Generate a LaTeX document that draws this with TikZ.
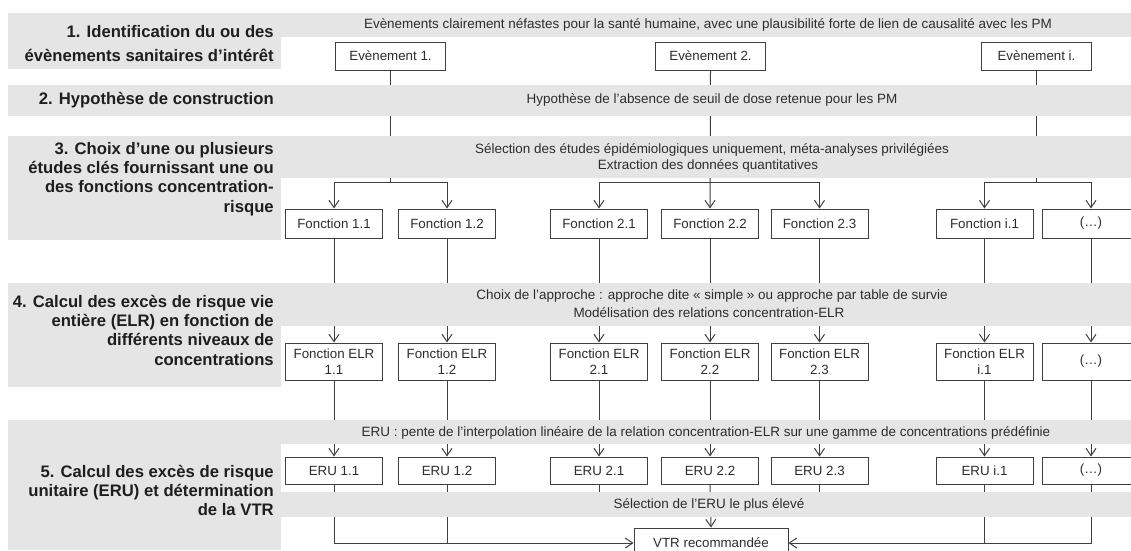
\documentclass[tikz,border=0pt]{standalone}
\usepackage{fontspec}
\setmainfont{Liberation Sans}
\usetikzlibrary{arrows.meta}
\definecolor{band}{RGB}{229,229,229}
\definecolor{ink}{RGB}{64,64,64}
\definecolor{txt}{RGB}{45,45,45}
\definecolor{head}{RGB}{30,30,30}

\begin{document}
\begin{tikzpicture}[x=0.75pt,y=-0.75pt,
  every node/.style={inner sep=0pt, text=txt},
  box/.style={draw=ink, line width=0.75pt, fill=white, align=center,
    minimum width=72.75pt, font=\fontsize{10}{12}\selectfont},
  evbox/.style={box, minimum width=82.5pt, minimum height=21pt},
  fbox/.style={box, minimum height=21.75pt},
  lbox/.style={box, minimum height=27.75pt},
  ubox/.style={box, minimum height=20.25pt},
  vbox/.style={box, minimum width=115.5pt, minimum height=22.5pt},
  stage/.style={anchor=east, align=right, text=head,
    font=\bfseries\fontsize{12.5}{14.5}\selectfont},
  note/.style={font=\fontsize{10.1}{12}\selectfont},
  conn/.style={draw=ink, line width=0.75pt},
  arrow/.style={conn, -{Straight Barb[length=5.5pt, width=7.5pt, line width=0.75pt]}}
]
\useasboundingbox (0,0) rectangle (1131,550);

% helper rows
\coordinate (brow) at (0,182);
\coordinate (selrow) at (0,505);

% events
\node[evbox] (ev1) at (390.5,56) {Evènement 1.};
\node[evbox] (ev2) at (710.5,56) {Evènement 2.};
\node[evbox] (evi) at (1036.5,56) {Evènement i.};

% concentration-risk functions
\node[fbox] (f11) at (334,223.5) {Fonction 1.1};
\node[fbox] (f12) at (447,223.5) {Fonction 1.2};
\node[fbox] (f21) at (599,223.5) {Fonction 2.1};
\node[fbox] (f22) at (710,223.5) {Fonction 2.2};
\node[fbox] (f23) at (819.5,223.5) {Fonction 2.3};
\node[fbox] (fi1) at (984.5,223.5) {Fonction i.1};
\node[fbox] (fix) at (1091,223.5) {(…)};

% ELR functions
\node[lbox] (l11) at (334,361.5) {Fonction ELR\\1.1};
\node[lbox] (l12) at (447,361.5) {Fonction ELR\\1.2};
\node[lbox] (l21) at (599,361.5) {Fonction ELR\\2.1};
\node[lbox] (l22) at (710,361.5) {Fonction ELR\\2.2};
\node[lbox] (l23) at (819.5,361.5) {Fonction ELR\\2.3};
\node[lbox] (li1) at (984.5,361.5) {Fonction ELR\\i.1};
\node[lbox] (lix) at (1091,361.5) {(…)};

% unit risks
\node[ubox] (u11) at (334,470.5) {ERU 1.1};
\node[ubox] (u12) at (447,470.5) {ERU 1.2};
\node[ubox] (u21) at (599,470.5) {ERU 2.1};
\node[ubox] (u22) at (710,470.5) {ERU 2.2};
\node[ubox] (u23) at (819.5,470.5) {ERU 2.3};
\node[ubox] (ui1) at (984.5,470.5) {ERU i.1};
\node[ubox] (uix) at (1091,470.5) {(…)};

% recommended value
\node[vbox] (vtr) at (711,543) {VTR recommandée};

% events to functions
\draw[conn] (ev1.south) -- (ev1.south |- brow);
\draw[arrow] (ev1.south |- brow) -| (f11.north);
\draw[arrow] (ev1.south |- brow) -| (f12.north);
\draw[arrow] (ev2.south) -- (f22.north);
\draw[arrow] (ev2.south |- brow) -| (f21.north);
\draw[arrow] (ev2.south |- brow) -| (f23.north);
\draw[conn] (evi.south) -- (evi.south |- brow);
\draw[arrow] (evi.south |- brow) -| (fi1.north);
\draw[arrow] (evi.south |- brow) -| (fix.north);

% functions to ELR, ELR to ERU
\foreach \c in {11,12,21,22,23,i1,ix}{
  \draw[arrow] (f\c.south) -- (l\c.north);
  \draw[arrow] (l\c.south) -- (u\c.north);
}

% ERU to recommended value
\draw[arrow] (u11.south) |- (vtr.west);
\draw[conn] (u12.south) -- (u12.south |- vtr.west);
\draw[conn] (u21.south) -- (u21.south |- selrow);
\draw[arrow] (u22.south) -- (vtr.north);
\draw[conn] (u23.south) -- (u23.south |- selrow);
\draw[conn] (ui1.south) -- (ui1.south |- vtr.east);
\draw[arrow] (uix.south) |- (vtr.east);

% grey bands
\fill[band] (8,13) rectangle (281,69);
\fill[band] (281,13) rectangle (1131,37);
\fill[band] (8,84.5) rectangle (1131,116);
\fill[band] (8,136) rectangle (281,240);
\fill[band] (281,136) rectangle (1131,178);
\fill[band] (8,283) rectangle (281,387);
\fill[band] (281,283) rectangle (1131,326);
\fill[band] (8,420) rectangle (281,550);
\fill[band] (281,420) rectangle (1131,444);
\fill[band] (281,492) rectangle (1131,517);

% stage titles
\node[stage] (s1) at (274,43.4) {1. Identification du ou des\\[3pt]évènements sanitaires d’intérêt};
\node[stage] (s2) at (274,100) {2. Hypothèse de construction};
\node[stage] (s3) at (274,179) {3. Choix d’une ou plusieurs\\études clés fournissant une ou\\des fonctions concentration-\\risque};
\node[stage] (s4) at (274,330) {4. Calcul des excès de risque vie\\entière (ELR) en fonction de\\différents niveaux de\\concentrations};
\node[stage] (s5) at (274,490.5) {5. Calcul des excès de risque\\unitaire (ERU) et détermination\\de la VTR};

% band notes
\node[note] (n1) at (708,25) {Evènements clairement néfastes pour la santé humaine, avec une plausibilité forte de lien de causalité avec les PM};
\node[note] (n2) at (712,100) {Hypothèse de l’absence de seuil de dose retenue pour les PM};
\node[note] (n3a) at (712,149.5) {Sélection des études épidémiologiques uniquement, méta-analyses privilégiées};
\node[note] (n3b) at (708,166) {Extraction des données quantitatives};
\node[note] (n4a) at (712,296.5) {Choix de l’approche : approche dite « simple » ou approche par table de survie};
\node[note] (n4b) at (709,313) {Modélisation des relations concentration-ELR};
\node[note] (n5a) at (706,433) {ERU : pente de l’interpolation linéaire de la relation concentration-ELR sur une gamme de concentrations prédéfinie};
\node[note] (n5b) at (709,505) {Sélection de l’ERU le plus élevé};
\end{tikzpicture}
\end{document}
